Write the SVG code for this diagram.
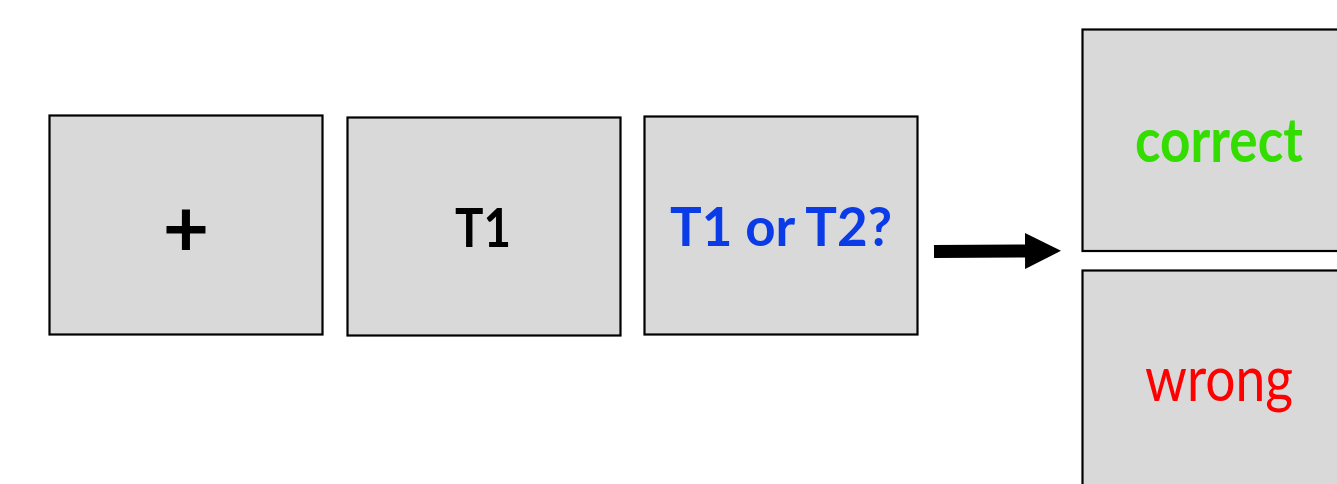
<svg xmlns="http://www.w3.org/2000/svg" width="1337" height="484" viewBox="0 0 1337 484">
<defs>
<style>
.box{fill:#d9d9d9;stroke:#000;stroke-width:2.2}
.t{font-family:Lato,"Open Sans","Liberation Sans",sans-serif;text-anchor:middle}
.b{font-weight:bold}
</style>
<marker id="ah" markerUnits="userSpaceOnUse" markerWidth="38" markerHeight="38" refX="0" refY="18" orient="auto">
<path d="M0,0 L36,18 L0,36 Z" fill="#000"/>
</marker>
</defs>
<rect width="1337" height="484" fill="#fff"/>
<g id="fixation">
<rect class="box" x="49.5" y="115.5" width="273" height="219"/>
<text class="t b" x="186" y="257" font-size="80">+</text>
</g>
<g id="t1">
<rect class="box" x="347.5" y="117.5" width="273" height="218"/>
<text class="t b" x="483" y="246.5" font-size="53" textLength="56" lengthAdjust="spacingAndGlyphs">T1</text>
</g>
<g id="question">
<rect class="box" x="644.5" y="116.5" width="273" height="218"/>
<text class="t b" x="781" y="245.5" font-size="53" fill="#0a3be6" textLength="222" lengthAdjust="spacingAndGlyphs">T1 or T2?</text>
</g>
<g id="correct">
<rect class="box" x="1082.5" y="29.5" width="270" height="221.5"/>
<text class="t b" x="1219" y="161.5" font-size="62" fill="#33dd00" textLength="168" lengthAdjust="spacingAndGlyphs">correct</text>
</g>
<g id="wrong">
<rect class="box" x="1082.5" y="270.5" width="270" height="230"/>
<text class="t" x="1219" y="401" font-size="61" fill="#ff0000" textLength="148" lengthAdjust="spacingAndGlyphs">wrong</text>
</g>
<g id="connectors">
<line x1="934" y1="251.5" x2="1025" y2="251" stroke="#000" stroke-width="13" marker-end="url(#ah)"/>
</g>
</svg>
